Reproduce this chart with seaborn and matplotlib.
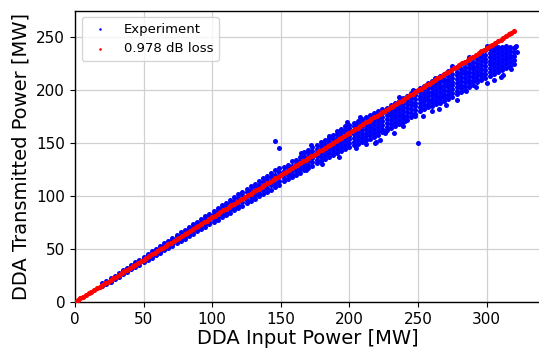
import numpy as np
import pandas as pd
import matplotlib
matplotlib.use("Agg")
import matplotlib.pyplot as plt
import seaborn as sns

# experiment cloud (input MW -> transmitted MW)
exp_cols = [20, 23, 26, 29, 32, 35, 38, 41, 44, 47, 50, 53, 56, 59, 62, 65, 68, 71, 74, 77,
            80, 83, 86, 89, 92, 95, 98, 101, 104, 107, 110, 113, 116, 119, 122, 125, 128, 131,
            134, 137, 140, 143, 146, 149,
            152, 155, 158, 161, 164, 167, 170, 173, 176, 179, 182, 185, 188, 191, 194, 197,
            200, 203, 206, 209, 212, 215, 218, 221, 224, 227, 230, 233, 236, 239, 242, 245,
            248, 251, 254, 257, 260, 263, 266, 269, 272, 275, 278, 281, 284, 287, 290, 293,
            296, 299, 302, 305, 308, 311, 314, 317, 320]
exp_vals = [
    [17.4, 14.7], [19.9, 17.0], [22.3, 19.2], [24.8, 21.5], [27.3, 23.8], [29.8, 26.1],
    [32.3, 28.4], [34.9, 30.6, 33.6], [37.4, 32.9, 36.1], [39.9, 35.1, 38.6],
    [42.5, 37.3, 41.0], [45.0, 39.6, 43.5, 41.0], [47.6, 41.8, 46.0, 43.3],
    [50.2, 44.0, 48.6, 45.6], [52.7, 46.3, 51.0, 48.0], [55.3, 48.5, 53.5, 50.2],
    [57.8, 50.8, 56.0, 52.6], [60.4, 53.0, 58.4, 55.0], [62.9, 55.2, 61.0, 57.3],
    [65.5, 57.4, 63.4, 59.5], [68.0, 59.6, 65.9, 61.8], [70.5, 61.9, 68.3, 64.1],
    [73.1, 64.1, 70.8, 66.4], [75.6, 66.4, 73.2, 68.8], [78.2, 68.6, 75.7, 71.1],
    [80.7, 70.9, 78.2, 73.5], [83.3, 73.1, 80.6, 75.8], [85.9, 75.3, 83.2, 78.0],
    [88.4, 77.5, 85.6, 80.4], [91.0, 79.7, 88.1, 82.6], [93.6, 81.9, 90.6, 84.9],
    [96.2, 84.1, 93.1, 87.2], [98.8, 86.3, 95.6, 89.5], [101.3, 88.6, 98.1, 91.8],
    [103.9, 90.8, 100.6, 94.1], [106.5, 93.0, 103.2, 96.4],
    [95.1, 98.6, 102.3, 105.7, 109.2], [97.2, 100.9, 104.6, 108.1, 111.6],
    [99.4, 103.1, 106.9, 110.5, 114.2], [101.6, 105.4, 109.3, 112.9, 116.6],
    [103.7, 107.6, 111.7, 115.3, 119.1], [105.9, 109.9, 114.0, 117.7, 121.5],
    [108.0, 112.1, 116.4, 120.1, 124.0], [110.2, 114.4, 118.8, 122.5, 126.4],
    [113.6, 117.0, 120.4, 123.9, 127.3],
    [115.9, 119.2, 122.8, 126.1, 129.4],
    [117.5, 121.0, 124.6, 128.0, 132.6],
    [119.8, 123.3, 126.7, 130.2, 133.5],
    [121.6, 125.2, 128.9, 132.4, 136.3],
    [124.0, 127.6, 131.0, 134.6, 138.0, 141.4],
    [125.8, 129.5, 133.0, 136.6, 140.1, 143.7],
    [128.3, 131.8, 135.4, 138.9, 142.3, 145.8],
    [130.6, 134.1, 137.5, 141.0, 144.5, 147.9],
    [133.1, 136.5, 140.0, 143.4, 147.0, 150.8],
    [135.0, 138.6, 142.1, 145.7, 149.2, 152.9],
    [136.8, 140.3, 144.0, 147.6, 151.2, 155.0],
    [138.9, 142.4, 146.1, 149.7, 153.3, 157.2],
    [140.5, 144.1, 147.8, 151.4, 155.0, 158.5, 161.0],
    [142.3, 145.9, 149.6, 153.2, 156.8, 160.3, 163.2],
    [144.1, 147.6, 151.3, 155.0, 158.6, 162.2, 165.5],
    [146.0, 149.5, 153.2, 156.8, 160.5, 164.0, 167.2],
    [147.5, 151.0, 154.8, 158.5, 162.1, 165.6, 168.8],
    [149.2, 152.8, 156.6, 160.3, 163.9, 167.4, 170.6],
    [150.8, 154.4, 158.0, 161.8, 165.5, 169.0, 172.5],
    [152.3, 156.0, 159.7, 163.4, 167.1, 170.8, 174.0],
    [154.0, 157.6, 161.3, 165.0, 168.7, 172.4, 176.1],
    [155.8, 159.4, 163.0, 166.8, 170.5, 174.2, 178.0],
    [157.6, 161.2, 164.9, 168.6, 172.3, 176.0, 180.3],
    [159.8, 163.3, 167.0, 170.6, 174.2, 177.8, 181.9],
    [161.9, 165.4, 169.0, 172.6, 176.2, 179.9, 183.3],
    [164.4, 167.9, 171.4, 175.0, 178.6, 182.2, 185.8],
    [166.0, 169.5, 173.1, 176.7, 180.3, 183.9, 187.7],
    [167.8, 171.3, 174.9, 178.5, 182.1, 185.8, 189.9],
    [169.5, 173.0, 176.6, 180.3, 184.0, 187.6, 192.0],
    [172.0, 175.5, 179.1, 182.7, 186.3, 190.0, 194.4],
    [174.6, 178.1, 181.7, 185.3, 188.9, 192.5, 196.6],
    [177.3, 180.8, 184.4, 188.0, 191.6, 195.2, 199.3],
    [180.3, 183.8, 187.4, 191.0, 194.6, 198.2, 201.8],
    [181.9, 185.4, 189.0, 192.6, 196.2, 199.8, 203.9],
    [183.4, 187.0, 190.6, 194.3, 198.0, 201.7, 206.0],
    [185.0, 188.3, 191.6, 195.0, 198.3, 201.6, 205.0, 208.1],
    [186.3, 189.7, 193.1, 196.5, 199.9, 203.3, 206.7, 210.4],
    [187.6, 191.0, 194.5, 198.0, 201.5, 205.0, 208.5, 212.6],
    [189.6, 193.0, 196.5, 200.0, 203.5, 207.0, 210.5, 214.9],
    [191.8, 195.2, 198.7, 202.2, 205.7, 209.2, 212.7, 217.3],
    [193.5, 197.0, 200.6, 204.2, 207.8, 211.4, 215.0, 219.6],
    [195.7, 199.2, 202.8, 206.4, 210.0, 213.6, 217.2, 221.8],
    [197.8, 201.3, 204.9, 208.5, 212.1, 215.7, 219.3, 224.2],
    [200.2, 203.7, 207.3, 210.9, 214.5, 218.1, 221.7, 226.5],
    [202.6, 206.1, 209.7, 213.3, 216.9, 220.5, 224.1, 228.8],
    [205.0, 208.5, 212.1, 215.7, 219.3, 222.9, 226.5, 230.9],
    [207.1, 210.6, 214.2, 217.8, 221.4, 225.0, 228.6, 233.0],
    [209.2, 212.7, 216.3, 219.9, 223.5, 227.1, 230.7, 235.1],
    [211.6, 215.1, 218.7, 222.3, 225.9, 229.5, 233.1, 237.4],
    [213.2, 216.8, 220.4, 224.0, 227.6, 231.2, 234.8, 238.5],
    [214.9, 218.5, 222.1, 225.7, 229.3, 232.9, 236.4, 239.6],
    [216.8, 220.4, 224.0, 227.6, 231.2, 234.8, 238.1, 240.8],
    [218.7, 222.3, 225.9, 229.5, 233.1, 236.6, 240.2],
    [220.5, 224.1, 227.7, 231.3, 234.9, 238.3, 241.2],
    [222.4, 226.0, 229.6, 233.2, 236.7, 240.0],
    [224.5, 228.5, 232.0, 236.1, 239.5],
]

# stray points away from the dense band
stray_in = [145.5, 148.6, 218.4, 219.0, 225.7, 226.5, 232.5, 239.0, 240.3, 250.0,
            247.6, 253.7, 260.4, 265.0, 270.0, 278.0, 285.0, 292.0, 300.0, 305.0,
            312.0, 318.0, 310.0, 236.0, 246.0, 262.0, 275.0, 287.0, 300.0, 306.0,
            320.5, 322.0, 321.0, 172.0, 185.0, 198.0, 208.0, 165.0, 168.0, 180.0,
            192.0, 205.0, 212.0, 222.0]
stray_out = [151.6, 145.5, 150.0, 150.5, 159.4, 161.5, 159.4, 165.7, 170.4, 149.5,
             175.0, 175.0, 180.3, 182.0, 186.0, 190.0, 199.0, 203.0, 206.0, 209.0,
             214.0, 220.0, 212.0, 193.0, 200.0, 211.0, 222.6, 231.0, 241.0, 242.5,
             240.6, 236.0, 241.0, 148.0, 156.5, 169.5, 174.0, 140.0, 124.0, 130.5,
             137.0, 145.0, 148.5, 153.0]

# 0.978 dB loss line
loss_in = np.arange(0, 321, 2)
loss_out = [0.0, 1.6, 3.2, 4.8, 6.4, 8.0, 9.6, 11.2, 12.8, 14.4, 16.0, 17.6, 19.2, 20.7,
            22.3, 23.9, 25.5, 27.1, 28.7, 30.3, 31.9, 33.5, 35.1, 36.7, 38.3, 39.9, 41.5,
            43.1, 44.7, 46.3, 47.9, 49.5, 51.1, 52.7, 54.3, 55.9, 57.5, 59.1, 60.6, 62.2,
            63.8, 65.4, 67.0, 68.6, 70.2, 71.8, 73.4, 75.0, 76.6, 78.2, 79.8, 81.4, 83.0,
            84.6, 86.2, 87.8, 89.4, 91.0, 92.6, 94.2, 95.8, 97.4, 99.0, 100.5, 102.1, 103.7,
            105.3, 106.9, 108.5, 110.1, 111.7, 113.3, 114.9, 116.5, 118.1, 119.7, 121.3,
            122.9, 124.5, 126.1, 127.7, 129.3, 130.9, 132.5, 134.1, 135.7, 137.3, 138.9,
            140.4, 142.0, 143.6, 145.2, 146.8, 148.4, 150.0, 151.6, 153.2, 154.8, 156.4,
            158.0, 159.6, 161.2, 162.8, 164.4, 166.0, 167.6, 169.2, 170.8, 172.4, 174.0,
            175.6, 177.2, 178.8, 180.3, 181.9, 183.5, 185.1, 186.7, 188.3, 189.9, 191.5,
            193.1, 194.7, 196.3, 197.9, 199.5, 201.1, 202.7, 204.3, 205.9, 207.5, 209.1,
            210.7, 212.3, 213.9, 215.5, 217.1, 218.7, 220.2, 221.8, 223.4, 225.0, 226.6,
            228.2, 229.8, 231.4, 233.0, 234.6, 236.2, 237.8, 239.4, 241.0, 242.6, 244.2,
            245.8, 247.4, 249.0, 250.6, 252.2, 253.8, 255.4]

# flatten the columns into one table
ins, outs = [], []
for x, ys in zip(exp_cols, exp_vals):
    ins += [x] * len(ys)
    outs += ys
exp = pd.DataFrame({"inp": ins + stray_in, "out": outs + stray_out})
loss = pd.DataFrame({"inp": loss_in, "out": loss_out})

sns.set_style("ticks", {"text.color": "black", "axes.labelcolor": "black",
                        "xtick.color": "black", "ytick.color": "black",
                        "axes.edgecolor": "black"})
plt.rcParams["font.family"] = ["DejaVu Sans"]

fig = plt.figure(figsize=(5.39, 3.49), dpi=100)
ax = fig.add_axes([0.139, 0.135, 0.866, 0.834])

sns.scatterplot(data=exp, x="inp", y="out", color="blue", s=13, linewidth=0,
                label="Experiment", ax=ax, zorder=2)
sns.scatterplot(data=loss, x="inp", y="out", color="red", s=14, linewidth=0,
                label="0.978 dB loss", ax=ax, zorder=3)

ax.set_xlim(0, 340)
ax.set_ylim(0, 274.5)
ax.set_xticks([0, 50, 100, 150, 200, 250, 300])
ax.set_yticks([0, 50, 100, 150, 200, 250])
ax.grid(True, color="#d0d0d0", linewidth=0.9)
ax.set_axisbelow(True)
ax.tick_params(labelsize=11, length=3.5, width=0.8, color="black", labelcolor="black")
for s in ["left", "bottom", "top"]:
    ax.spines[s].set_color("black")
    ax.spines[s].set_linewidth(1.0)
ax.spines["right"].set_visible(False)

ax.set_xlabel("DDA Input Power [MW]", fontsize=14, labelpad=2, color="black")
ax.set_ylabel("DDA Transmitted Power [MW]", fontsize=14, labelpad=4, color="black")
leg = ax.legend(loc="upper left", fontsize=9.5, frameon=True, markerscale=0.5)
for t in leg.get_texts():
    t.set_color("black")

fig.savefig("out.png", dpi=100)
